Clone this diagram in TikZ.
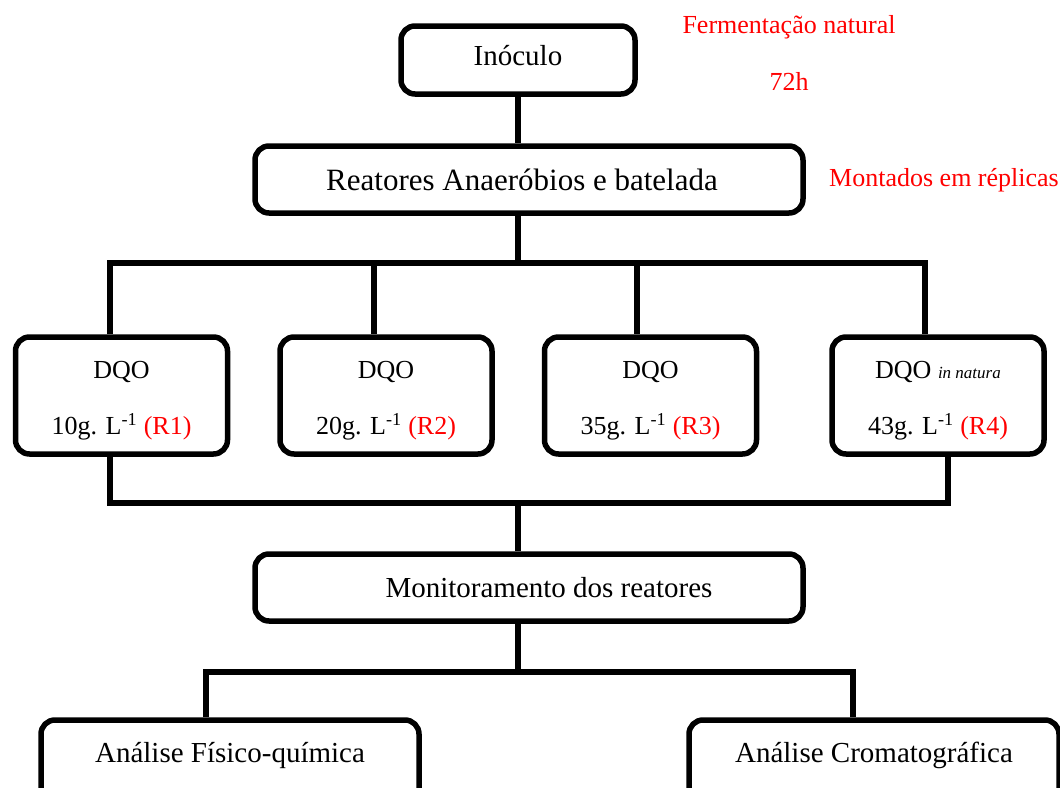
\documentclass[tikz,border=0pt]{standalone}
\usepackage{fontspec}
\setmainfont{Liberation Serif}
\usetikzlibrary{positioning}

\begin{document}
\begin{tikzpicture}[
        x=1pt, y=-1pt,
        box/.style={
            rectangle,
            rounded corners=14pt,
            draw=black,
            line width=5.5pt,
            align=center,
            inner sep=0pt,
            font=\fontsize{29}{35}\selectfont
        },
        dqo/.style={
            box,
            minimum width=212pt,
            minimum height=117pt,
            text height=83pt,
            font=\fontsize{26}{56}\selectfont
        },
        line/.style={line width=5.5pt, black},
        nota/.style={inner sep=0pt, text=red, font=\fontsize{26}{31}\selectfont},
        node distance=47pt
    ]
    \useasboundingbox (0,0) rectangle (1060,787);
    \clip (0,0) rectangle (1060,787);

    % Coluna central
    \node[box, minimum width=234pt, minimum height=68pt, text depth=10pt] (inoculo) at (518,60) {Inóculo};
    \node[box, minimum width=548pt, minimum height=67pt, font=\fontsize{31}{37}\selectfont] (reatores) at (529,179.5) {Reatores Anaeróbios e batelada\hspace*{14pt}};

    % Notas
    \node[nota] (ferm) at (789,27) {Fermentação natural};
    \node[nota] (hora) at (789,81) {72h};
    \node[nota, anchor=west] (replicas) at (829,180) {Montados em réplicas};

    % Reatores
    \node[dqo] (r1) at (121.5,395.5) {DQO\\10g. L\textsuperscript{-1} \textcolor{red}{(R1)}};
    \node[dqo, right=of r1] (r2) {DQO\\20g. L\textsuperscript{-1} \textcolor{red}{(R2)}};
    \node[dqo, right=of r2] (r3) {DQO\\35g. L\textsuperscript{-1} \textcolor{red}{(R3)}};
    \node[dqo, right=70pt of r3] (r4) {DQO {\fontsize{17}{20}\selectfont\itshape in natura}\\43g. L\textsuperscript{-1} \textcolor{red}{(R4)}};

    % Monitoramento e analises
    \node[box, minimum width=548pt, minimum height=67pt] (monit) at (529,587.5) {\hspace*{40pt}Monitoramento dos reatores};
    \node[box, minimum width=378pt, minimum height=100pt, text height=26pt, text depth=42pt] (fisq) at (230,770) {Análise Físico-química};
    \node[box, minimum width=370pt, minimum height=100pt, text height=26pt, text depth=42pt] (crom) at (874,770) {Análise Cromatográfica};

    % Pontos das barras
    \coordinate (d1) at (110,263);
    \coordinate (d2) at (374,263);
    \coordinate (d3) at (637,263);
    \coordinate (d4) at (925,263);
    \coordinate (b1) at (110,503);
    \coordinate (b4) at (948,503);
    \coordinate (a1) at (206,672);
    \coordinate (a2) at (853,672);

    % Ligacoes
    \draw[line] (inoculo.south) -- (reatores.north -| inoculo.south);
    \draw[line] (reatores.south -| inoculo.south) -- (d1 -| inoculo.south);
    \draw[line] (r1.north -| d1) -- (d1) -- (d4) -- (r4.north -| d4);
    \draw[line] (d2) -- (r2.north -| d2);
    \draw[line] (d3) -- (r3.north -| d3);
    \draw[line] (r1.south -| b1) -- (b1) -- (b4) -- (r4.south -| b4);
    \draw[line] (b1 -| inoculo.south) -- (monit.north -| inoculo.south);
    \draw[line] (monit.south -| inoculo.south) -- (a1 -| inoculo.south);
    \draw[line] (fisq.north -| a1) -- (a1) -- (a2) -- (crom.north -| a2);

\end{tikzpicture}
\end{document}
